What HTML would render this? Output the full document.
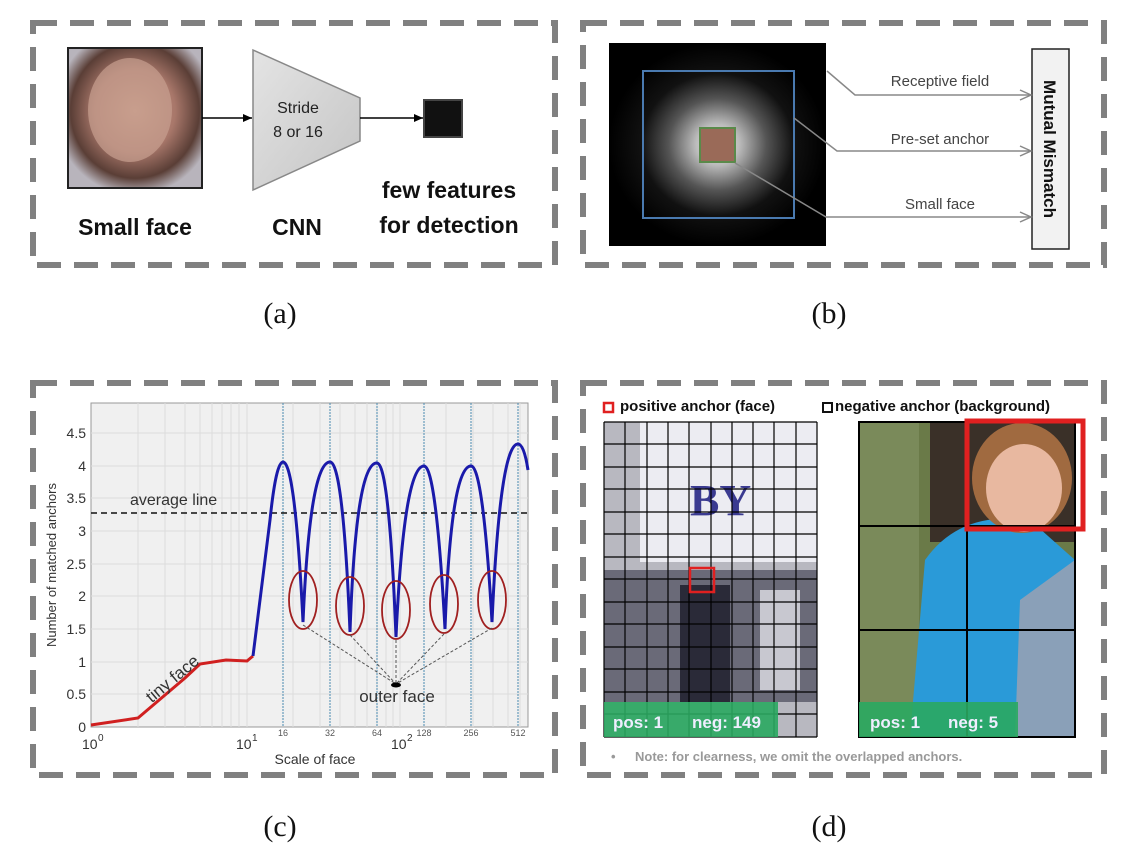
<!DOCTYPE html>
<html><head><meta charset="utf-8"><style>
html,body{margin:0;padding:0;background:#fff;}
svg{display:block}
</style></head><body>
<svg width="1128" height="856" viewBox="0 0 1128 856" xmlns="http://www.w3.org/2000/svg" font-family="Liberation Sans, sans-serif">
<defs>
<radialGradient id="glow" cx="0.5" cy="0.5" r="0.5">
<stop offset="0" stop-color="#e8e8e8"/><stop offset="0.2" stop-color="#bcbcbc"/><stop offset="0.45" stop-color="#555"/><stop offset="0.7" stop-color="#111"/><stop offset="1" stop-color="#000"/>
</radialGradient>
<radialGradient id="face" cx="0.5" cy="0.45" r="0.6">
<stop offset="0" stop-color="#c99a86"/><stop offset="0.5" stop-color="#a8776a"/><stop offset="0.8" stop-color="#5a3e36"/><stop offset="1" stop-color="#b8b4bc"/>
</radialGradient>
<linearGradient id="trap" x1="0" y1="0" x2="1" y2="1"><stop offset="0" stop-color="#e4e4e4"/><stop offset="1" stop-color="#c4c4c4"/></linearGradient>
<marker id="ar" markerWidth="10" markerHeight="10" refX="9" refY="5" orient="auto" markerUnits="userSpaceOnUse"><path d="M0,1 L9,5 L0,9 Z" fill="#000"/></marker>
<marker id="ag" markerWidth="14" markerHeight="12" refX="12" refY="6" orient="auto" markerUnits="userSpaceOnUse"><path d="M1,1 L12,6 L1,11" fill="none" stroke="#888" stroke-width="1.5"/></marker>
</defs>

<g fill="none" stroke="#808080" stroke-width="6" stroke-dasharray="24,13">
<rect x="33" y="23" width="522" height="242"/>
<rect x="583" y="23" width="521" height="242"/>
<rect x="33" y="383" width="522" height="392"/>
<rect x="583" y="383" width="521" height="392"/>
</g>

<!-- panel a -->
<rect x="68" y="48" width="134" height="140" fill="url(#face)" stroke="#222" stroke-width="2"/>
<ellipse cx="130" cy="110" rx="42" ry="52" fill="#c8a090" opacity="0.7"/>
<path d="M253,50 L360,98 L360,141 L253,190 Z" fill="url(#trap)" stroke="#888" stroke-width="1.5"/>
<text x="298" y="113" font-size="16" text-anchor="middle" fill="#222">Stride</text>
<text x="298" y="137" font-size="16" text-anchor="middle" fill="#222">8 or 16</text>
<line x1="202" y1="118" x2="252" y2="118" stroke="#000" stroke-width="1.5" marker-end="url(#ar)"/>
<line x1="360" y1="118" x2="423" y2="118" stroke="#000" stroke-width="1.5" marker-end="url(#ar)"/>
<rect x="424" y="100" width="38" height="37" fill="#111" stroke="#444" stroke-width="2"/>
<g font-size="23" font-weight="bold" fill="#111" text-anchor="middle">
<text x="135" y="235">Small face</text>
<text x="297" y="235">CNN</text>
<text x="449" y="198">few features</text>
<text x="449" y="233">for detection</text>
</g>

<!-- panel b -->
<rect x="609" y="43" width="217" height="203" fill="url(#glow)"/>
<rect x="643" y="71" width="151" height="147" fill="none" stroke="#4a7ab0" stroke-width="2"/>
<rect x="700" y="128" width="35" height="34" fill="#9a6a58" stroke="#5a8a4a" stroke-width="2"/>
<rect x="1032" y="49" width="37" height="200" fill="#f2f2f2" stroke="#222" stroke-width="1.5"/>
<text transform="translate(1044,149) rotate(90)" font-size="17" font-weight="bold" text-anchor="middle" fill="#111">Mutual Mismatch</text>
<g fill="none" stroke="#888" stroke-width="1.5">
<path d="M827,71 L855,95 L1031,95" marker-end="url(#ag)"/>
<path d="M794,118 L837,151 L1031,151" marker-end="url(#ag)"/>
<path d="M735,163 L826,217 L1031,217" marker-end="url(#ag)"/>
</g>
<g font-size="15" fill="#444" text-anchor="middle">
<text x="940" y="86">Receptive field</text>
<text x="940" y="144">Pre-set  anchor</text>
<text x="940" y="209">Small  face</text>
</g>

<g font-family="Liberation Serif, serif" font-size="30" fill="#111" text-anchor="middle">
<text x="280" y="323">(a)</text>
<text x="829" y="323">(b)</text>
<text x="280" y="836">(c)</text>
<text x="829" y="836">(d)</text>
</g>

<!-- panel c -->
<rect x="91" y="403" width="437" height="324" fill="#f0f0f0" stroke="#999" stroke-width="1"/>
<g stroke="#dcdcdc" stroke-width="1">
<line x1="91" y1="694" x2="528" y2="694"/><line x1="91" y1="662" x2="528" y2="662"/>
<line x1="91" y1="629" x2="528" y2="629"/><line x1="91" y1="596" x2="528" y2="596"/>
<line x1="91" y1="564" x2="528" y2="564"/><line x1="91" y1="531" x2="528" y2="531"/>
<line x1="91" y1="498" x2="528" y2="498"/><line x1="91" y1="466" x2="528" y2="466"/>
<line x1="91" y1="433" x2="528" y2="433"/>
<line x1="138" y1="403" x2="138" y2="727"/><line x1="165" y1="403" x2="165" y2="727"/>
<line x1="185" y1="403" x2="185" y2="727"/><line x1="200" y1="403" x2="200" y2="727"/>
<line x1="212" y1="403" x2="212" y2="727"/><line x1="222" y1="403" x2="222" y2="727"/>
<line x1="231" y1="403" x2="231" y2="727"/><line x1="239" y1="403" x2="239" y2="727"/>
<line x1="247" y1="403" x2="247" y2="727"/>
<line x1="293" y1="403" x2="293" y2="727"/><line x1="320" y1="403" x2="320" y2="727"/>
<line x1="340" y1="403" x2="340" y2="727"/><line x1="355" y1="403" x2="355" y2="727"/>
<line x1="367" y1="403" x2="367" y2="727"/><line x1="377" y1="403" x2="377" y2="727"/>
<line x1="386" y1="403" x2="386" y2="727"/><line x1="393" y1="403" x2="393" y2="727"/>
<line x1="400" y1="403" x2="400" y2="727"/><line x1="446" y1="403" x2="446" y2="727"/>
<line x1="473" y1="403" x2="473" y2="727"/><line x1="493" y1="403" x2="493" y2="727"/>
<line x1="508" y1="403" x2="508" y2="727"/><line x1="520" y1="403" x2="520" y2="727"/>
</g>
<g stroke="#4a8ab0" stroke-width="1" stroke-dasharray="2,1">
<line x1="283" y1="403" x2="283" y2="727"/><line x1="330" y1="403" x2="330" y2="727"/>
<line x1="377" y1="403" x2="377" y2="727"/><line x1="424" y1="403" x2="424" y2="727"/>
<line x1="471" y1="403" x2="471" y2="727"/><line x1="518" y1="403" x2="518" y2="727"/>
</g>
<line x1="91" y1="513" x2="528" y2="513" stroke="#111" stroke-width="1.5" stroke-dasharray="6,4"/>
<text x="130" y="505" font-size="16" fill="#333">average line</text>
<polyline points="91,725 138,718 185,678 200,664 226,660 247,661 253,656" fill="none" stroke="#d02020" stroke-width="3"/>
<path d="M253,656 L270,520 Q276,462 283,462 Q295,462 303,622 Q310,462 330,462 Q343,462 350,632 Q356,462 377,463 Q389,463 396,637 Q404,466 424,466 Q436,466 445,629 Q451,466 471,466 Q483,466 492,622 Q500,444 518,444 Q524,444 528,470" fill="none" stroke="#1a1aaa" stroke-width="3"/>
<g fill="none" stroke="#a02020" stroke-width="1.8">
<ellipse cx="303" cy="600" rx="14" ry="29"/>
<ellipse cx="350" cy="606" rx="14" ry="29"/>
<ellipse cx="396" cy="610" rx="14" ry="29"/>
<ellipse cx="444" cy="604" rx="14" ry="29"/>
<ellipse cx="492" cy="600" rx="14" ry="29"/>
</g>
<g stroke="#555" stroke-width="1" stroke-dasharray="3,2">
<line x1="303" y1="625" x2="396" y2="684"/><line x1="350" y1="635" x2="396" y2="684"/>
<line x1="396" y1="640" x2="396" y2="684"/><line x1="444" y1="634" x2="396" y2="684"/>
<line x1="492" y1="628" x2="396" y2="684"/>
</g>
<ellipse cx="396" cy="685" rx="5" ry="2.5" fill="#000"/>
<text x="397" y="702" font-size="17" fill="#333" text-anchor="middle">outer face</text>
<text transform="translate(176,683) rotate(-40)" font-size="17" fill="#333" text-anchor="middle">tiny face</text>
<g font-size="14" fill="#333" text-anchor="end">
<text x="86" y="732">0</text><text x="86" y="699">0.5</text><text x="86" y="667">1</text>
<text x="86" y="634">1.5</text><text x="86" y="601">2</text><text x="86" y="569">2.5</text>
<text x="86" y="536">3</text><text x="86" y="503">3.5</text><text x="86" y="471">4</text>
<text x="86" y="438">4.5</text>
</g>
<g font-size="9" fill="#555" text-anchor="middle">
<text x="283" y="736">16</text><text x="330" y="736">32</text><text x="377" y="736">64</text>
<text x="424" y="736">128</text><text x="471" y="736">256</text><text x="518" y="736">512</text>
</g>
<g font-size="14" fill="#333">
<text x="82" y="749">10</text><text x="98" y="741" font-size="10">0</text>
<text x="236" y="749">10</text><text x="252" y="741" font-size="10">1</text>
<text x="391" y="749">10</text><text x="407" y="741" font-size="10">2</text>
</g>
<text x="315" y="764" font-size="14" fill="#333" text-anchor="middle">Scale of face</text>
<text transform="translate(56,565) rotate(-90)" font-size="13" fill="#333" text-anchor="middle">Number of matched anchors</text>

<!-- panel d -->
<rect x="604" y="403" width="9" height="9" fill="none" stroke="#e02020" stroke-width="2.5"/>
<text x="620" y="411" font-size="15" font-weight="bold" fill="#111">positive anchor (face)</text>
<rect x="823" y="403" width="9" height="9" fill="none" stroke="#111" stroke-width="2"/>
<text x="835" y="411" font-size="15" font-weight="bold" fill="#111">negative anchor (background)</text>

<rect x="604" y="422" width="213" height="315" fill="#b8b8c0"/>
<rect x="640" y="422" width="177" height="140" fill="#ececf2"/>
<text x="690" y="515" font-size="44" font-weight="bold" fill="#3a3a90" font-family="Liberation Serif, serif">BY</text>
<rect x="604" y="570" width="213" height="132" fill="#6a6a78"/>
<rect x="680" y="585" width="50" height="117" fill="#2a2a38"/>
<rect x="760" y="590" width="40" height="100" fill="#c8c8d0"/>
<g stroke="#000" stroke-width="1.2">
<line x1="604" y1="422" x2="604" y2="737"/><line x1="625" y1="422" x2="625" y2="737"/>
<line x1="647" y1="422" x2="647" y2="737"/><line x1="668" y1="422" x2="668" y2="737"/>
<line x1="689" y1="422" x2="689" y2="737"/><line x1="711" y1="422" x2="711" y2="737"/>
<line x1="732" y1="422" x2="732" y2="737"/><line x1="753" y1="422" x2="753" y2="737"/>
<line x1="774" y1="422" x2="774" y2="737"/><line x1="796" y1="422" x2="796" y2="737"/>
<line x1="817" y1="422" x2="817" y2="737"/>
<line x1="604" y1="422" x2="817" y2="422"/><line x1="604" y1="444" x2="817" y2="444"/>
<line x1="604" y1="467" x2="817" y2="467"/><line x1="604" y1="489" x2="817" y2="489"/>
<line x1="604" y1="512" x2="817" y2="512"/><line x1="604" y1="534" x2="817" y2="534"/>
<line x1="604" y1="557" x2="817" y2="557"/><line x1="604" y1="579" x2="817" y2="579"/>
<line x1="604" y1="602" x2="817" y2="602"/><line x1="604" y1="624" x2="817" y2="624"/>
<line x1="604" y1="647" x2="817" y2="647"/><line x1="604" y1="669" x2="817" y2="669"/>
<line x1="604" y1="692" x2="817" y2="692"/><line x1="604" y1="714" x2="817" y2="714"/>
<line x1="604" y1="737" x2="817" y2="737"/>
</g>
<rect x="690" y="568" width="24" height="24" fill="none" stroke="#e02020" stroke-width="2.5"/>
<rect x="604" y="702" width="174" height="35" fill="#2aa860" opacity="0.9"/>
<text x="613" y="728" font-size="17" font-weight="bold" fill="#eef">pos: 1</text>
<text x="692" y="728" font-size="17" font-weight="bold" fill="#eef">neg: 149</text>

<rect x="859" y="422" width="216" height="315" fill="#6a7a48"/>
<rect x="859" y="422" width="60" height="315" fill="#7a8a5a"/>
<rect x="930" y="422" width="145" height="120" fill="#3a3028"/>
<path d="M910,737 L925,560 Q960,510 1030,520 L1075,560 L1075,737 Z" fill="#2a9ad8"/>
<path d="M1020,600 L1075,560 L1075,737 L1015,737 Z" fill="#8aa0b8"/>
<ellipse cx="1022" cy="478" rx="50" ry="55" fill="#a06a40"/>
<ellipse cx="1024" cy="488" rx="38" ry="44" fill="#e8b8a0"/>
<g stroke="#000" stroke-width="2" fill="none">
<rect x="859" y="422" width="216" height="315"/>
<line x1="967" y1="526" x2="967" y2="737"/>
<line x1="859" y1="526" x2="1075" y2="526"/>
<line x1="859" y1="630" x2="1075" y2="630"/>
</g>
<rect x="967" y="421" width="116" height="108" fill="none" stroke="#e02020" stroke-width="5"/>
<rect x="859" y="702" width="159" height="35" fill="#2aa860" opacity="0.9"/>
<text x="870" y="728" font-size="17" font-weight="bold" fill="#eef">pos: 1</text>
<text x="948" y="728" font-size="17" font-weight="bold" fill="#eef">neg: 5</text>

<text x="611" y="761" font-size="13" font-weight="bold" fill="#999">•</text>
<text x="635" y="761" font-size="13" font-weight="bold" fill="#999">Note: for clearness,  we omit the overlapped anchors.</text>
</svg>
</body></html>
